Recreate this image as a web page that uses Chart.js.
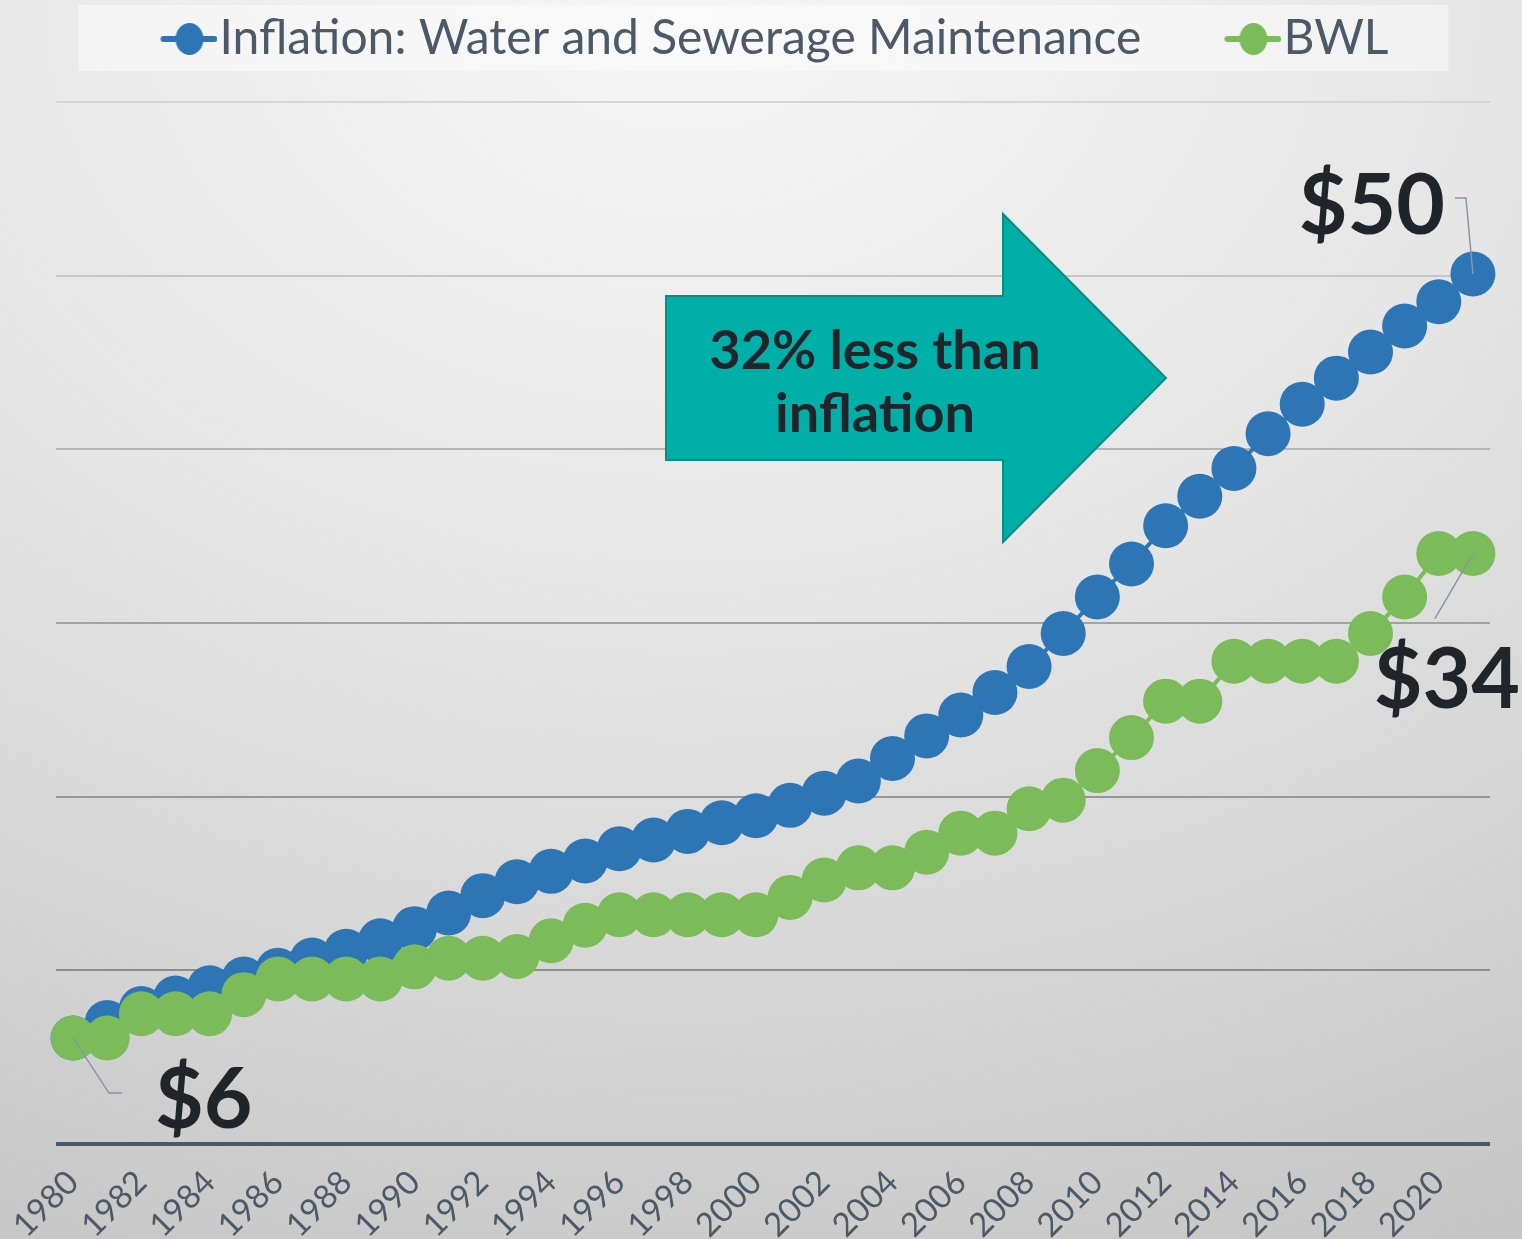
<!DOCTYPE html>
<html>
<head>
<meta charset="utf-8">
<script src="https://cdn.jsdelivr.net/npm/chart.js@4.4.1/dist/chart.umd.min.js"></script>
<style>
  html, body { margin: 0; padding: 0; }
  body {
    width: 1522px; height: 1239px; overflow: hidden;
    background: radial-gradient(ellipse 120% 110% at 45% 0%, #f6f6f6 0%, #e6e6e6 45%, #c6c6c6 100%);
  }
  #wrap { position: relative; width: 1522px; height: 1239px; }
</style>
</head>
<body>
<div id="wrap"><canvas id="myChart"></canvas></div>
<script>
// data
const years = []
for (let y = 1980; y <= 2021; y++) years.push(String(y))

const inflation = [6.1, 7.0, 7.8, 8.4, 9.0, 9.5, 10.0, 10.6, 11.1, 11.7,
                   12.4, 13.3, 14.3, 15.1, 15.7, 16.3, 17.0, 17.5, 18.0, 18.5,
                   18.9, 19.5, 20.2, 20.9, 22.2, 23.5, 24.7, 26.0, 27.5, 29.4,
                   31.5, 33.4, 35.6, 37.3, 38.9, 40.9, 42.6, 44.1, 45.6, 47.1,
                   48.5, 50.1]
const bwl = [6.1, 6.1, 7.5, 7.5, 7.5, 8.6, 9.5, 9.5, 9.5, 9.5,
             10.2, 10.7, 10.7, 10.8, 11.7, 12.6, 13.2, 13.2, 13.2, 13.2,
             13.2, 14.2, 15.2, 15.9, 15.9, 16.8, 17.9, 17.9, 19.3, 19.8,
             21.5, 23.4, 25.5, 25.5, 27.8, 27.8, 27.8, 27.8, 29.4, 31.5,
             34.0, 34.0]
const seriesNames = ['Inflation: Water and Sewerage Maintenance', 'BWL']
const endLabels = ['$6', '$50', '$34']
const calloutLines = ['32% less than', 'inflation']

const blue = '#2e75b6'
const green = '#7cbb5a'
const textGrey = '#4c5a68'
const dark = '#1f252b'

const legendShift = -35
const markerW = 108

// legend marker: line with a dot, drawn on the right side of a wide image
function legendMarker(color) {
    const c = document.createElement('canvas')
    c.width = 152
    c.height = 34
    const g = c.getContext('2d')
    g.strokeStyle = color
    g.lineWidth = 6
    g.lineCap = 'round'
    g.beginPath()
    g.moveTo(98, 17)
    g.lineTo(149, 17)
    g.stroke()
    g.fillStyle = color
    g.beginPath()
    g.ellipse(124, 17, 14, 16, 0, 0, Math.PI * 2)
    g.fill()
    return c
}
const markers = [legendMarker(blue), legendMarker(green)]

const decorPlugin = {
    id: 'decor',
    beforeLayout(chart) {
        const lg = chart.legend
        if (lg && !lg._patched) {
            const fit = lg.fit
            lg.fit = function () { fit.call(this); this.height += 29 }
            const draw = lg.draw
            lg.draw = function () {
                this.ctx.save()
                this.ctx.translate(legendShift, 0)
                draw.call(this)
                this.ctx.restore()
            }
            lg._patched = true
        }
    },
    beforeDraw(chart) {
        // legend background box
        const ctx = chart.ctx
        const boxes = chart.legend.legendHitBoxes
        if (boxes && boxes.length) {
            const first = boxes[0]
            const last = boxes[boxes.length - 1]
            const x0 = first.left + legendShift + markerW - 35 - 82
            const x1 = last.left + legendShift + last.width + 60
            ctx.save()
            ctx.fillStyle = 'rgba(255,255,255,0.45)'
            ctx.fillRect(x0, 5, x1 - x0, 66)
            ctx.restore()
        }
    },
    beforeDatasetsDraw(chart) {
        // arrow callout
        const ctx = chart.ctx
        ctx.save()
        ctx.beginPath()
        ctx.moveTo(666, 296)
        ctx.lineTo(1003, 296)
        ctx.lineTo(1003, 214)
        ctx.lineTo(1166, 378)
        ctx.lineTo(1003, 542)
        ctx.lineTo(1003, 460)
        ctx.lineTo(666, 460)
        ctx.closePath()
        ctx.fillStyle = '#00b0a8'
        ctx.fill()
        ctx.lineWidth = 2
        ctx.strokeStyle = '#0e8a80'
        ctx.stroke()
        ctx.fillStyle = dark
        ctx.font = 'bold 54px Lato'
        ctx.textAlign = 'center'
        ctx.textBaseline = 'alphabetic'
        ctx.fillText(calloutLines[0], 875, 369)
        ctx.fillText(calloutLines[1], 875, 432)
        ctx.restore()
    },
    afterDatasetsDraw(chart) {
        // end value labels with leader lines
        const ctx = chart.ctx
        const pBlue = chart.getDatasetMeta(0).data
        const pGreen = chart.getDatasetMeta(1).data
        const a = pGreen[0], b = pBlue[pBlue.length - 1], c = pGreen[pGreen.length - 1]
        ctx.save()
        ctx.strokeStyle = '#8797a6'
        ctx.lineWidth = 1.5
        ctx.beginPath()
        ctx.moveTo(a.x, a.y); ctx.lineTo(a.x + 36, a.y + 55); ctx.lineTo(a.x + 49, a.y + 55)
        ctx.moveTo(b.x - 18, b.y - 76); ctx.lineTo(b.x - 7, b.y - 76); ctx.lineTo(b.x, b.y)
        ctx.moveTo(c.x, c.y); ctx.lineTo(c.x - 38, c.y + 65)
        ctx.stroke()
        ctx.fillStyle = dark
        ctx.font = 'bold 84px Lato'
        ctx.textBaseline = 'alphabetic'
        ctx.textAlign = 'left'
        ctx.fillText(endLabels[0], a.x + 82, a.y + 90)
        ctx.textAlign = 'right'
        ctx.fillText(endLabels[1], b.x - 28, b.y - 40)
        ctx.textAlign = 'center'
        ctx.fillText(endLabels[2], c.x - 26, c.y + 154)
        ctx.restore()
    }
}

// grid colour gets lighter toward the top
const gridColors = ['#4c5966', '#8c8c8c', '#979797', '#a2a2a2', '#b4b4b4', '#c6c6c6', '#d6d6d6']

const ctx = document.getElementById('myChart')
const myChart = new Chart(ctx, {
    type: 'line',
    data: {
        labels: years,
        datasets: [
            {
                label: seriesNames[0],
                data: inflation,
                borderColor: blue,
                backgroundColor: blue,
                borderWidth: 4,
                pointRadius: 22.5,
                pointHoverRadius: 22.5,
                pointBorderWidth: 0,
                order: 2
            },
            {
                label: seriesNames[1],
                data: bwl,
                borderColor: green,
                backgroundColor: green,
                borderWidth: 4,
                pointRadius: 22.5,
                pointHoverRadius: 22.5,
                pointBorderWidth: 0,
                order: 1
            }
        ]
    },
    options: {
        responsive: true,
        maintainAspectRatio: false,
        animation: false,
        layout: { padding: { left: 56, right: 32, top: 5, bottom: 0 } },
        plugins: {
            tooltip: { enabled: false },
            legend: {
                position: 'top',
                labels: {
                    usePointStyle: true,
                    pointStyleWidth: markerW,
                    padding: 10,
                    color: textGrey,
                    font: { family: 'Lato', size: 48 },
                    sort: (x, y) => x.datasetIndex - y.datasetIndex,
                    generateLabels(chart) {
                        const items = Chart.defaults.plugins.legend.labels.generateLabels(chart)
                        items.forEach(it => { it.pointStyle = markers[it.datasetIndex] })
                        return items
                    }
                }
            }
        },
        scales: {
            x: {
                offset: true,
                grid: { display: false },
                border: { display: false },
                afterFit(scale) {
                    scale.paddingLeft = 0
                    scale.paddingRight = 0
                    scale.height = 95
                },
                ticks: {
                    autoSkip: false,
                    minRotation: 45,
                    maxRotation: 45,
                    padding: 11,
                    color: textGrey,
                    font: { family: 'Lato', size: 33 },
                    callback(val, i) { return i % 2 === 0 ? this.getLabelForValue(val) : '' }
                }
            },
            y: {
                min: 0,
                max: 60,
                ticks: { display: false, stepSize: 10 },
                border: { display: false },
                grid: {
                    drawTicks: false,
                    color: c => gridColors[c.index] || '#cccccc',
                    lineWidth: c => c.index === 0 ? 4 : 2
                }
            }
        }
    },
    plugins: [decorPlugin]
})
</script>
</body>
</html>
